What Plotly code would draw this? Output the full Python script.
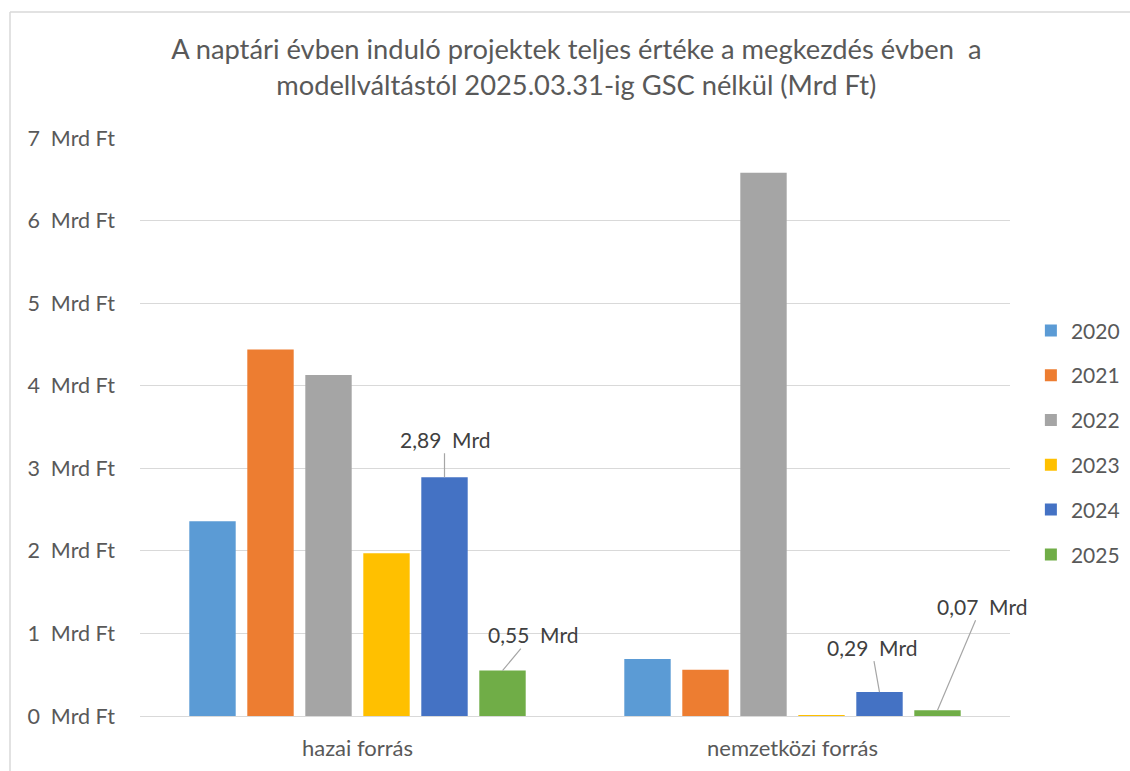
import plotly.graph_objects as go

# Project value by start year, split by funding source (billion HUF)
categories = ["hazai forrás", "nemzetközi forrás"]
years = ["2020", "2021", "2022", "2023", "2024", "2025"]
values = {
    "2020": [2.36, 0.69],
    "2021": [4.44, 0.56],
    "2022": [4.13, 6.58],
    "2023": [1.97, 0.004],
    "2024": [2.89, 0.29],
    "2025": [0.55, 0.07],
}
colors = ["#5B9BD5", "#ED7D31", "#A5A5A5", "#FFC000", "#4472C4", "#70AD47"]
y_ticks = [0, 1, 2, 3, 4, 5, 6, 7]
y_tick_text = [f"{v}\u00a0\u00a0Mrd Ft" for v in y_ticks]

# Labelled bars: (year, category index, label offset in px)
labelled = [
    ("2024", 0, 0, -38),
    ("2025", 0, 30, -36),
    ("2024", 1, -8, -45),
    ("2025", 1, 44, -104),
]

FONT = "Lato"
TXT = "#595959"

fig = go.Figure()
for year, col in zip(years, colors):
    fig.add_trace(go.Bar(
        name=year, x=categories, y=values[year],
        marker=dict(color=col, line=dict(width=0)),
        legendgroup=year,
    ))

n = len(years)
group_w = 0.8
bar_step = group_w / n
annotations = []
for year, ci, ax, ay in labelled:
    i = years.index(year)
    xpos = ci + (i - (n - 1) / 2) * bar_step
    v = values[year][ci]
    annotations.append(dict(
        x=xpos, y=v, xref="x", yref="y",
        text=f"{v:.2f}".replace(".", ",") + "\u00a0\u00a0Mrd",
        showarrow=True, arrowhead=0, arrowwidth=1.2, arrowcolor="#a6a6a6",
        ax=ax, ay=ay, font=dict(family=FONT, size=21, color="#404040"),
        standoff=0,
    ))

fig.update_layout(
    width=1130, height=771,
    margin=dict(l=140, r=120, t=138, b=55, autoexpand=False),
    paper_bgcolor="white", plot_bgcolor="white",
    font=dict(family=FONT, color=TXT),
    title=dict(
        text="A naptári évben induló projektek teljes értéke a megkezdés évben  a<br>modellváltástól 2025.03.31-ig GSC nélkül (Mrd Ft)",
        x=0.51, xanchor="center", y=0.923, yanchor="top",
        font=dict(family=FONT, size=27.3, color=TXT),
    ),
    barmode="group", bargap=0.2, bargroupgap=0.2,
    xaxis=dict(
        range=[-0.5, 1.5], autorange=False,
        showgrid=False, showline=True, linecolor="#d9d9d9", linewidth=1.3,
        tickfont=dict(family=FONT, size=22, color=TXT),
        ticks="", ticklabelstandoff=12,
    ),
    yaxis=dict(
        range=[0, 7], autorange=False, tickvals=y_ticks, ticktext=y_tick_text,
        showgrid=True, gridcolor="#d9d9d9", gridwidth=1.3,
        zeroline=False, showline=False,
        tickfont=dict(family=FONT, size=21.5, color=TXT),
        ticks="", ticklabelstandoff=24,
    ),
    legend=dict(
        x=1.024, xanchor="left", y=0.702, yanchor="top",
        font=dict(family=FONT, size=21, color=TXT),
        traceorder="grouped", tracegroupgap=14.5,
        itemwidth=30,
    ),
    annotations=annotations,
    shapes=[
        dict(type="line", xref="paper", yref="paper",
             x0=-130 / 870, x1=1.2, y0=1 + 126 / 578, y1=1 + 126 / 578,
             line=dict(color="#d9d9d9", width=1.5)),
        dict(type="line", xref="paper", yref="paper",
             x0=-130 / 870, x1=-130 / 870, y0=1 + 126 / 578, y1=-0.2,
             line=dict(color="#d9d9d9", width=1.5)),
    ],
)

fig.write_html("out.html")
